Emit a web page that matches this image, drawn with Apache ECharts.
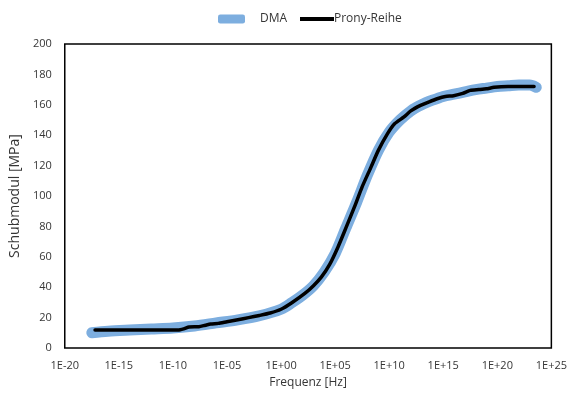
<!DOCTYPE html>
<html>
<head>
<meta charset="utf-8">
<script src="https://cdn.jsdelivr.net/npm/echarts@6/dist/echarts.min.js"></script>
<style>html,body{margin:0;padding:0;background:#fff}#c{width:570px;height:396px}</style>
</head>
<body>
<div id="c"></div>
<script>
// log10 of frequency [Hz] and shear modulus [MPa]
const dmaExp = [-17.5,-16,-14,-12,-10,-8,-6,-4,-2,0,1,2,3,4,5,6,7,8,9,10,11,12,13,14,15,16,17,18,19,20,21,22,23,23.6];
const dmaVal = [10,11,11.8,12.5,13.2,14.5,16.5,18.5,21.2,25.5,29.8,34.8,41,50,62,79,96,114,130,142,150,156,160,163,165.5,167,168.5,170,171,172,172.5,173,173,171.5];
const pronyExp = [-17.2,-13,-9.5,-9.0,-8.5,-7.6,-7.0,-6.5,-5.8,-5.0,-4.0,-3.0,-2.0,-1.0,0,1.0,2.2,3.0,3.74,4.5,5.27,6.0,6.79,7.5,8.32,9.0,9.85,10.5,11.37,12.0,12.9,13.7,14.44,15.2,15.96,16.8,17.5,18.3,19.0,19.7,21,23.4];
const pronyVal = [11.8,11.8,11.8,12.6,13.8,14.0,15.0,15.8,16.2,17.3,18.6,20.0,21.4,23.0,25.5,29.8,35.9,41,46.8,55,66.5,79,92.8,106,119,130,141,147.5,152,156,159.6,162,164,165.5,166,167.5,169.5,170,170.5,171.5,172,172];
const xMinExp = -20, xMaxExp = 25, xStepExp = 5;
const yMin = 0, yMax = 200, yStep = 20;

const toPairs = (ex, vals) => ex.map((e, i) => [Math.pow(10, e), vals[i]]);
const fmtExp = v => {
  const e = Math.round(Math.log10(v));
  const a = Math.abs(e);
  return '1E' + (e < 0 ? '-' : '+') + (a < 10 ? '0' : '') + a;
};
const font = '"Open Sans", "Noto Sans", sans-serif';
const txt = '#363636';

const chart = echarts.init(document.getElementById('c'), null, {renderer: 'canvas'});
chart.setOption({
  animation: false,
  backgroundColor: '#fff',
  textStyle: {fontFamily: font},
  legend: [
    {data: [{name: 'DMA', icon: 'roundRect'}], left: 213, top: 8, itemWidth: 27, itemHeight: 9,
     textStyle: {fontFamily: font, fontSize: 12, color: txt, padding: [0, 0, 0, 10]}},
    {data: [{name: 'Prony-Reihe', icon: 'rect'}], left: 295, top: 8, itemWidth: 34, itemHeight: 4,
     itemGap: 0, textStyle: {fontFamily: font, fontSize: 12, color: txt, padding: [0, 0, 0, -5]}}
  ],
  grid: {left: 61, right: 18, top: 44, bottom: 48, show: true, borderColor: '#000', borderWidth: 1.5, containLabel: false},
  xAxis: {
    type: 'log', logBase: 10,
    min: Math.pow(10, xMinExp), max: Math.pow(10, xMaxExp), interval: xStepExp,
    name: 'Frequenz [Hz]', nameLocation: 'middle', nameGap: 29,
    nameTextStyle: {fontFamily: font, fontSize: 12, color: txt},
    axisLine: {show: false}, axisTick: {show: false}, splitLine: {show: false}, minorTick: {show: false},
    axisLabel: {formatter: fmtExp, fontFamily: font, fontSize: 11, color: txt, margin: 12, showMinLabel: true, showMaxLabel: true}
  },
  yAxis: {
    type: 'value', min: yMin, max: yMax, interval: yStep,
    name: 'Schubmodul [MPa]', nameLocation: 'middle', nameGap: 35,
    nameTextStyle: {fontFamily: font, fontSize: 14, color: txt},
    axisLine: {show: false}, axisTick: {show: false}, splitLine: {show: false},
    axisLabel: {fontFamily: font, fontSize: 11, color: txt, margin: 13}
  },
  series: [
    {name: 'DMA', type: 'line', data: toPairs(dmaExp, dmaVal), showSymbol: false, symbol: 'none', smooth: 0.3,
     color: '#7DAEDF', lineStyle: {width: 11, color: '#7DAEDF', cap: 'round', join: 'round'}, z: 2},
    {name: 'Prony-Reihe', type: 'line', data: toPairs(pronyExp, pronyVal), showSymbol: false, symbol: 'none', smooth: 0.2,
     color: '#000', lineStyle: {width: 3.5, color: '#000', cap: 'round', join: 'round'}, z: 3}
  ]
});
</script>
</body>
</html>
